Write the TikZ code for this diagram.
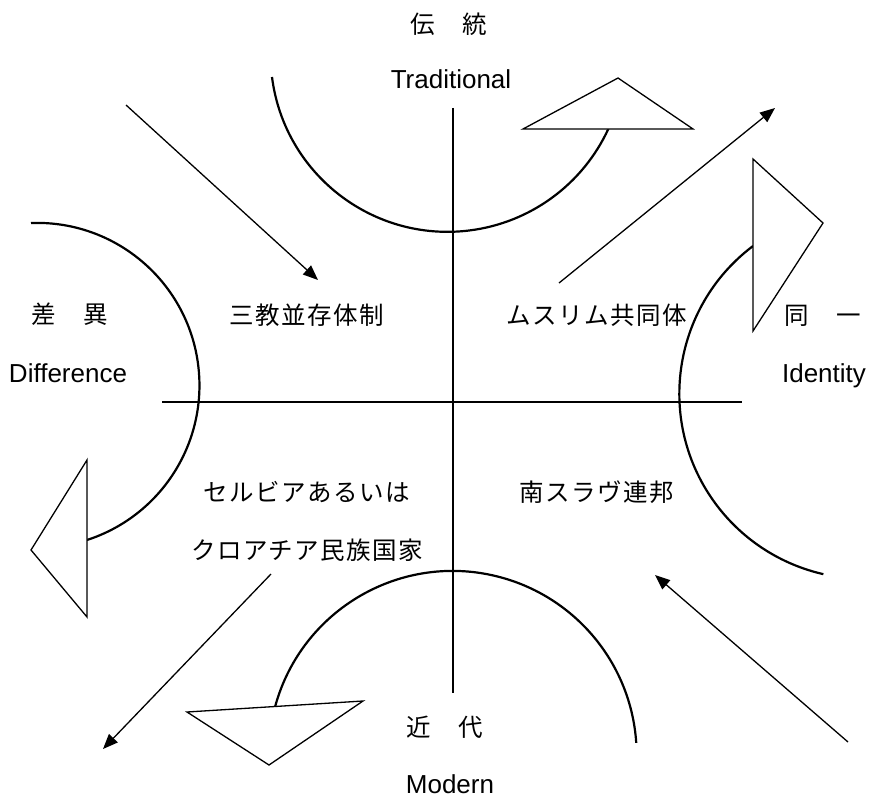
\documentclass[tikz,border=0pt]{standalone}
\usepackage{fontspec}
\setmainfont{Liberation Sans}
\newfontfamily\jp{Noto Sans CJK JP}[LetterSpace=6]
\usepackage{tikz}
\usetikzlibrary{positioning,arrows.meta}

\begin{document}
\begin{tikzpicture}[x=1pt, y=-1pt,
		axis/.style={line width=1.4pt},
		flow/.style={line width=2.2pt},
		head/.style={draw, line width=1.3pt, fill=white, line join=miter},
		push/.style={line width=1.3pt, -{Triangle[length=15pt, width=12pt]}},
		ja/.style={font=\jp\fontsize{24.5}{28}\selectfont},
		en/.style={font=\fontsize{26}{30}\selectfont, anchor=base}]
				\useasboundingbox (0,0) rectangle (869,797);
				%%%nodes
				%poles
				\node[ja] at (449,24) (Tja){伝　統};
				\node[en] at (451,89) (Ten){Traditional};
				\node[ja] at (70,314) (Dja){差　異};
				\node[en] at (68,382) (Den){Difference};
				\node[ja] at (823,316) (Ija){同　一};
				\node[en] at (824,382) (Ien){Identity};
				\node[ja] at (445,727) (Mja){近　代};
				\node[en] at (450,793) (Men){Modern};
				%quadrants
				\node[ja] at (307,315) (Q1){三教並存体制};
				\node[ja] at (597,315) (Q2){ムスリム共同体};
				\node[ja] at (307,492) (Q3a){セルビアあるいは};
				\node[ja] at (307,550) (Q3b){クロアチア民族国家};
				\node[ja] at (597,492) (Q4){南スラヴ連邦};
				%%%axes
				\coordinate (N) at (453,108);
				\coordinate (S) at (453,693);
				\coordinate (W) at (162,402);
				\coordinate (E) at (742,402);
				\draw[axis] (N) -- (S);
				\draw[axis] (W) -- (E);
				%%%turning arcs
				%top
				\draw[flow] (272,77) arc[start angle=172.8, end angle=24.7, radius=177];
				%right
				\draw[flow] (753,246) arc[start angle=233, end angle=102.8, radius=185];
				%left
				\draw[flow] (31,223) arc[start angle=-92.1, end angle=72.1, radius=162.5];
				%bottom
				\draw[flow] (275,707) arc[start angle=195.1, end angle=356.25, radius=184];
				%%%heads
				\draw[head] (523,129) -- (693,129) -- (618,78) -- cycle;
				\draw[head] (753,159) -- (753,331) -- (823,223) -- cycle;
				\draw[head] (87,460) -- (87,617) -- (31,550) -- cycle;
				\draw[head] (187,712) -- (363,701) -- (269,765) -- cycle;
				%%%straight arrows
				\coordinate (a1) at (126,105);
				\coordinate (b1) at (318,280);
				\coordinate (a2) at (559,283);
				\coordinate (b2) at (775,108);
				\coordinate (a3) at (271,574);
				\coordinate (b3) at (103,749);
				\coordinate (a4) at (848,742);
				\coordinate (b4) at (655,575);
				\draw[push] (a1) -- (b1);
				\draw[push] (a2) -- (b2);
				\draw[push] (a3) -- (b3);
				\draw[push] (a4) -- (b4);
			\end{tikzpicture}
\end{document}
